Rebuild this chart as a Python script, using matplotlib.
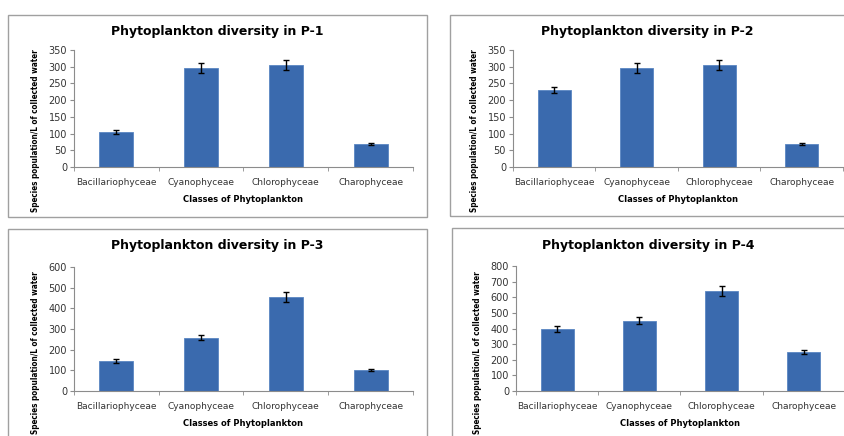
import matplotlib
matplotlib.use("Agg")
import matplotlib.pyplot as plt
from matplotlib.patches import Rectangle

# Datos
classes = ["Bacillariophyceae", "Cyanophyceae", "Chlorophyceae", "Charophyceae"]
sites = ["P-1", "P-2", "P-3", "P-4"]

p1_vals = [105, 295, 305, 68]
p1_err = [5, 15, 15, 3]
p2_vals = [230, 295, 305, 68]
p2_err = [10, 15, 15, 3]
p3_vals = [145, 258, 455, 100]
p3_err = [8, 12, 22, 5]
p4_vals = [398, 450, 640, 250]
p4_err = [20, 22, 32, 12]

y_max = [350, 350, 600, 800]
y_step = [50, 50, 100, 100]

W, H = 845, 436
fig = plt.figure(figsize=(W / 100, H / 100), dpi=100)

def px_rect(x0, y0, x1, y1):
    # convierte pixeles (origen arriba-izq) a fracciones de figura
    return [x0 / W, 1 - y1 / H, (x1 - x0) / W, (y1 - y0) / H]

# cajas y ejes en pixeles
boxes = [(8, 15, 427, 217), (450, 15, 850, 216), (8, 229, 427, 440), (452, 228, 850, 440)]
axes_px = [(74, 50, 413, 167), (513, 50, 843, 167), (74, 267, 413, 391), (516, 266, 845, 391)]
ylab_y = [0.31, 0.31, 0.31, 0.31]
title_y = [32, 32, 246, 246]
all_vals = [p1_vals, p2_vals, p3_vals, p4_vals]
all_err = [p1_err, p2_err, p3_err, p4_err]

bar_color = "#3A6AAE"
axis_color = "#8C8C8C"
font = "DejaVu Sans"

for i in range(4):
    bx = boxes[i]
    fig.patches.append(Rectangle((bx[0] / W, 1 - bx[3] / H), (bx[2] - bx[0]) / W, (bx[3] - bx[1]) / H,
                                 transform=fig.transFigure, fill=False, edgecolor="#A0A0A0", linewidth=1.0))
    ax = fig.add_axes(px_rect(*axes_px[i]))
    x = list(range(len(classes)))
    ax.bar(x, all_vals[i], width=0.4, color=bar_color, edgecolor="#5A86C2", linewidth=0.6,
           yerr=all_err[i], error_kw=dict(ecolor="black", elinewidth=1.0, capsize=2.5, capthick=1.0))
    ax.set_xlim(-0.5, 3.5)
    ax.set_ylim(0, y_max[i])
    ax.set_yticks(range(0, y_max[i] + 1, y_step[i]))
    ax.set_xticks(x)
    ax.set_xticklabels(classes, fontsize=6.5, family=font, color="#333333")
    ax.set_xticks([-0.5, 0.5, 1.5, 2.5, 3.5], minor=True)
    ax.tick_params(axis="x", which="major", length=0, pad=8)
    ax.tick_params(axis="x", which="minor", length=3, color=axis_color, direction="out")
    ax.tick_params(axis="y", length=3, color=axis_color, labelsize=7, labelcolor="#333333", pad=2)
    for t in ax.get_yticklabels():
        t.set_family(font)
    for s in ["top", "right"]:
        ax.spines[s].set_visible(False)
    ax.spines["left"].set_color(axis_color)
    ax.spines["bottom"].set_color(axis_color)
    ax.set_xlabel("Classes of Phytoplankton", fontsize=6, fontweight="bold", family=font, labelpad=6)
    ax.set_ylabel("Species population/L of collected water", fontsize=5.9, fontweight="bold", family=font,
                  fontstretch="condensed")
    ax.yaxis.set_label_coords(-34 / (axes_px[i][2] - axes_px[i][0]), ylab_y[i])
    cx = (bx[0] + min(bx[2], W)) / 2
    fig.text(cx / W, 1 - title_y[i] / H, "Phytoplankton diversity in " + sites[i], ha="center", va="center",
             fontsize=9, fontweight="bold", family=font)

fig.savefig("out.png", dpi=100)
